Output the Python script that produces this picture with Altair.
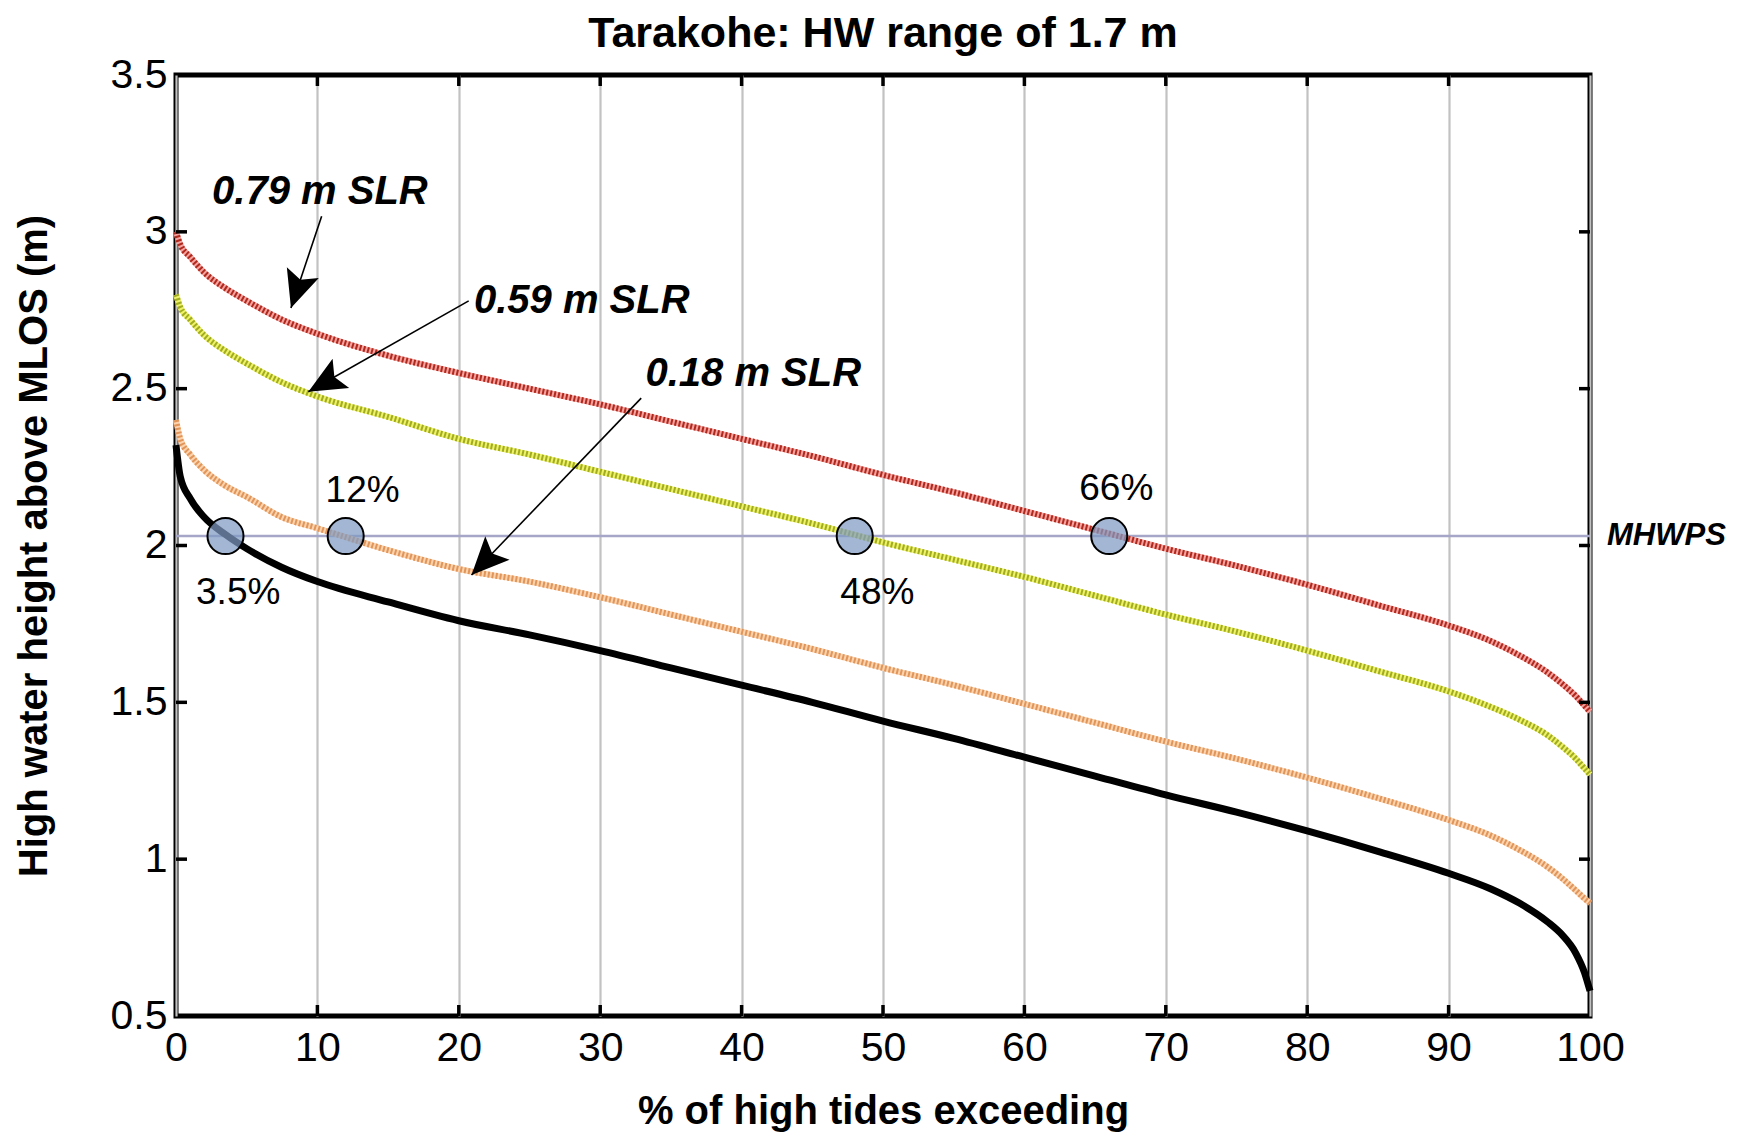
import math
import altair as alt
import pandas as pd

# ---------------- data ----------------
TITLE = "Tarakohe: HW range of 1.7 m"
X_TITLE = "% of high tides exceeding"
Y_TITLE = "High water height above MLOS (m)"

pct = [0, 0.3, 1, 2, 3.5, 5, 7.5, 10, 15, 20, 25, 30, 35, 40, 45, 50, 55, 60,
       65, 70, 75, 80, 85, 90, 93, 95, 97, 98, 99, 99.6, 100]
present = [2.32, 2.22, 2.15, 2.09, 2.035, 1.99, 1.93, 1.885, 1.82, 1.76, 1.715,
           1.665, 1.61, 1.555, 1.50, 1.44, 1.385, 1.325, 1.265, 1.205, 1.15,
           1.09, 1.025, 0.955, 0.905, 0.86, 0.80, 0.76, 0.70, 0.64, 0.58]
slr_018 = [2.40, 2.34, 2.29, 2.24, 2.19, 2.155, 2.09, 2.055, 1.985, 1.925, 1.885,
           1.835, 1.78, 1.725, 1.67, 1.61, 1.555, 1.495, 1.435, 1.375, 1.32,
           1.26, 1.195, 1.125, 1.075, 1.03, 0.975, 0.94, 0.90, 0.875, 0.86]
slr_059 = [2.80, 2.76, 2.72, 2.67, 2.62, 2.58, 2.52, 2.475, 2.41, 2.34, 2.29,
           2.235, 2.18, 2.125, 2.07, 2.01, 1.955, 1.90, 1.84, 1.78, 1.725,
           1.665, 1.60, 1.535, 1.485, 1.445, 1.395, 1.36, 1.32, 1.29, 1.27]
slr_079 = [3.00, 2.96, 2.92, 2.87, 2.82, 2.78, 2.72, 2.675, 2.605, 2.55, 2.50,
           2.45, 2.395, 2.34, 2.285, 2.225, 2.17, 2.11, 2.05, 1.99, 1.935,
           1.875, 1.81, 1.745, 1.695, 1.65, 1.595, 1.56, 1.52, 1.49, 1.47]

mhwps_level = [2.03]
mhwps_label = ["MHWPS"]

marker_pct = [3.5, 12, 48, 66]
marker_level = [2.03, 2.03, 2.03, 2.03]
marker_text = ["3.5%", "12%", "48%", "66%"]
marker_text_x = [4.4, 13.2, 49.6, 66.5]
marker_text_y = [1.85, 2.175, 1.85, 2.18]

ann_text = ["0.79 m SLR", "0.59 m SLR", "0.18 m SLR"]
ann_x = [2.55, 21.07, 33.2]
ann_y = [3.127, 2.78, 2.547]
arrow_tail_x = [10.3, 20.7, 32.9]
arrow_tail_y = [3.05, 2.78, 2.47]
arrow_tip_x = [8.13, 9.36, 20.9]
arrow_tip_y = [2.757, 2.49, 1.906]

x_ticks = [0, 10, 20, 30, 40, 50, 60, 70, 80, 90, 100]
y_ticks = [0.5, 1, 1.5, 2, 2.5, 3, 3.5]
x_inner_ticks = [10, 20, 30, 40, 50, 60, 70, 80, 90]
y_inner_ticks = [1, 1.5, 2, 2.5, 3]

# ---------------- layout / style ----------------
W, H = 1414, 941
FONT = "Liberation Sans"
X_MIN, X_MAX = 0, 100
Y_MIN, Y_MAX = 0.5, 3.5

curves = pd.DataFrame({"pct": pct, "present": present, "s018": slr_018,
                       "s059": slr_059, "s079": slr_079})
markers = pd.DataFrame({"pct": marker_pct, "lvl": marker_level})
marker_labels = pd.DataFrame({"x": marker_text_x, "y": marker_text_y, "t": marker_text})
mhwps = pd.DataFrame({"lvl": mhwps_level, "x": [X_MAX], "t": mhwps_label})
ann = pd.DataFrame({"x": ann_x, "y": ann_y, "t": ann_text})
title_df = pd.DataFrame({"t": [TITLE]})

px_x = W / (X_MAX - X_MIN)
px_y = H / (Y_MAX - Y_MIN)
angles = []
for tx, ty, hx, hy in zip(arrow_tail_x, arrow_tail_y, arrow_tip_x, arrow_tip_y):
    dx = (hx - tx) * px_x
    dys = -(hy - ty) * px_y
    angles.append(math.degrees(math.atan2(dx, -dys)) % 360)
arrows = pd.DataFrame({"x": arrow_tail_x, "y": arrow_tail_y,
                       "x2": arrow_tip_x, "y2": arrow_tip_y, "ang": angles})

xs = alt.Scale(domain=[X_MIN, X_MAX], nice=False, zero=False)
ys = alt.Scale(domain=[Y_MIN, Y_MAX], nice=False, zero=False)

x_axis = alt.Axis(values=x_ticks, grid=True, gridColor="#c2c2c2", gridWidth=2.2,
                  ticks=False, domain=False, labelFontSize=41, labelColor="black",
                  labelPadding=12, labelFlush=False, labelOverlap=False,
                  titleFontSize=40, titleFontWeight="bold",
                  titleColor="black", titlePadding=23, labelFont=FONT, titleFont=FONT)
y_axis = alt.Axis(values=y_ticks, grid=False, ticks=False, domain=False, format="~g",
                  labelFontSize=41, labelColor="black", labelPadding=9,
                  labelFlush=False, labelOverlap=False,
                  titleFontSize=40, titleFontWeight="bold", titleColor="black",
                  titlePadding=56, labelFont=FONT, titleFont=FONT)


def X(f):
    return alt.X(f, type="quantitative", scale=xs, axis=x_axis, title=X_TITLE)


def Y(f):
    return alt.Y(f, type="quantitative", scale=ys, axis=y_axis, title=Y_TITLE)


layers = []

# MHWPS reference line
layers.append(alt.Chart(mhwps).mark_rule(color="#a6a6c8", strokeWidth=2.5).encode(y=Y("lvl")))

# SLR curves: light underlay + dotted overlay
series = [("s018", "#fcd3ad", "#e0955a"),
          ("s059", "#eef268", "#a2ac22"),
          ("s079", "#f4a3a0", "#b0291d")]
for name, light, dark in series:
    layers.append(alt.Chart(curves).mark_line(color=light, strokeWidth=6, interpolate="monotone")
                  .encode(x=X("pct"), y=Y(name)))
    layers.append(alt.Chart(curves).mark_line(color=dark, strokeWidth=6, strokeDash=[2, 2],
                                              interpolate="monotone")
                  .encode(x=X("pct"), y=Y(name)))

# present-day curve
layers.append(alt.Chart(curves).mark_line(color="black", strokeWidth=7, interpolate="monotone")
              .encode(x=X("pct"), y=Y("present")))

# inward ticks on all four sides
yt = pd.DataFrame({"v": y_inner_ticks})
xt = pd.DataFrame({"v": x_inner_ticks})
layers.append(alt.Chart(yt).mark_rule(color="black", strokeWidth=3.5)
              .encode(y=Y("v"), x=alt.value(0), x2=alt.value(11)))
layers.append(alt.Chart(yt).mark_rule(color="black", strokeWidth=3.5)
              .encode(y=Y("v"), x=alt.value(W - 11), x2=alt.value(W)))
layers.append(alt.Chart(xt).mark_rule(color="black", strokeWidth=3.5)
              .encode(x=X("v"), y=alt.value(H - 11), y2=alt.value(H)))
layers.append(alt.Chart(xt).mark_rule(color="black", strokeWidth=3.5)
              .encode(x=X("v"), y=alt.value(0), y2=alt.value(11)))

# crossing markers
layers.append(alt.Chart(markers).mark_point(shape="circle", filled=True, fill="#7f9bc4",
                                            fillOpacity=0.72, stroke="black", strokeWidth=2,
                                            strokeOpacity=1, size=1300)
              .encode(x=X("pct"), y=Y("lvl")))
layers.append(alt.Chart(marker_labels).mark_text(font=FONT, fontSize=37, color="black",
                                                 align="center", baseline="middle")
              .encode(x=X("x"), y=Y("y"), text="t:N"))

# MHWPS label
layers.append(alt.Chart(mhwps).mark_text(font=FONT, fontSize=31, fontStyle="italic",
                                         fontWeight="bold", color="black", align="left",
                                         baseline="middle", dx=17)
              .encode(x=X("x"), y=Y("lvl"), text="t:N"))

# SLR annotations and arrows
layers.append(alt.Chart(ann).mark_text(font=FONT, fontSize=40, fontStyle="italic",
                                       fontWeight="bold", color="black", align="left",
                                       baseline="middle")
              .encode(x=X("x"), y=Y("y"), text="t:N"))
layers.append(alt.Chart(arrows).mark_rule(color="black", strokeWidth=1.6)
              .encode(x=X("x"), y=Y("y"), x2="x2:Q", y2="y2:Q"))
layers.append(alt.Chart(arrows).mark_point(shape="M0,0 L0.9,2 L0,1.6 L-0.9,2 Z",
                                           filled=True, color="black", opacity=1, size=1400)
              .encode(x=X("x2"), y=Y("y2"), angle=alt.Angle("ang:Q", scale=None)))

# chart title (drawn as text above the plot frame)
layers.append(alt.Chart(title_df).mark_text(font=FONT, fontSize=43, fontWeight="bold",
                                            color="black", align="center",
                                            baseline="alphabetic")
              .encode(x=alt.value(W / 2), y=alt.value(-28), text="t:N"))

chart = alt.layer(*layers).properties(
    width=W, height=H,
    autosize=alt.AutoSizeParams(type="none"),
    padding={"left": 168, "top": 67, "right": 152, "bottom": 121},
).configure(background="white").configure_view(stroke="black", strokeWidth=5)

chart.save("out.html", embed_options={"renderer": "svg", "actions": False})
